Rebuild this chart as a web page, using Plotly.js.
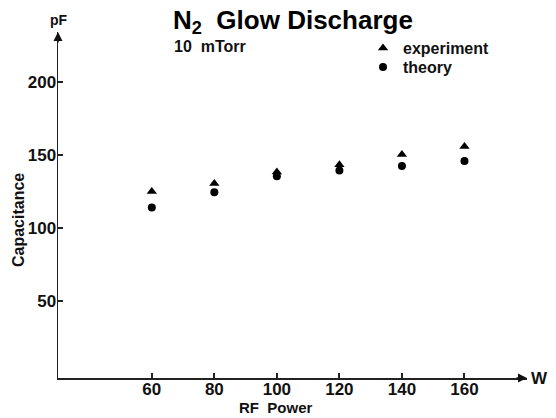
<!DOCTYPE html>
<html>
<head>
<meta charset="utf-8">
<script src="https://cdn.plot.ly/plotly-3.0.1.min.js"></script>
<style>html,body{margin:0;padding:0;background:#fff;}#chart{width:556px;height:418px;}</style>
</head>
<body>
<div id="chart"></div>
<script>
const power = [60, 80, 100, 120, 140, 160];
const experiment = [125, 130.5, 138.5, 143.5, 150.5, 156];
const theory = [114, 124.5, 135.5, 139.5, 142.5, 146];
const xTicks = [60, 80, 100, 120, 140, 160];
const yTicks = [50, 100, 150, 200];

const L = 58, R = 527, T = 32, B = 378;
const px = v => (v - L) / (R - L);
const py = v => (B - v) / (B - T);
const font = 'Liberation Sans, Arial, Helvetica, sans-serif';

const traces = [
  {x: power, y: experiment, name: 'experiment', mode: 'markers', type: 'scatter', legend: 'legend',
   marker: {symbol: 'triangle-up', size: 9, color: '#000'}, cliponaxis: false},
  {x: power, y: theory, name: 'theory', mode: 'markers', type: 'scatter', legend: 'legend2',
   marker: {symbol: 'circle', size: 8, color: '#000'}, cliponaxis: false}
];

const legendStyle = (top) => ({
  x: px(363), y: py(top), xanchor: 'left', yanchor: 'top',
  bgcolor: 'rgba(0,0,0,0)', borderwidth: 0,
  font: {size: 16, family: font, color: '#111', weight: 'bold'},
  itemwidth: 30
});

const layout = {
  width: 556, height: 418,
  margin: {l: L, r: 556 - R, t: T, b: 418 - B, pad: 0},
  paper_bgcolor: '#fff', plot_bgcolor: '#fff',
  font: {family: font, color: '#111', size: 15},
  showlegend: true,
  legend: legendStyle(31),
  legend2: legendStyle(50),
  xaxis: {range: [30, 180], tickvals: xTicks, ticktext: xTicks.map(String),
          showgrid: false, zeroline: false, showline: true, linecolor: '#222', linewidth: 1.5,
          ticks: 'inside', ticklen: 5, tickwidth: 2, tickcolor: '#222', ticklabelstandoff: -5,
          tickfont: {size: 17, family: font, color: '#111', weight: 'bold'}, fixedrange: true},
  yaxis: {range: [-3, 234.6], tickvals: yTicks, ticktext: yTicks.map(String),
          showgrid: false, zeroline: false, showline: true, linecolor: '#222', linewidth: 1.5,
          ticks: 'inside', ticklen: 5, tickwidth: 2, tickcolor: '#222', ticklabelstandoff: -3,
          tickfont: {size: 17, family: font, color: '#111', weight: 'bold'}, fixedrange: true},
  annotations: [
    {xref: 'paper', yref: 'paper', x: px(293), y: py(21), xanchor: 'center', yanchor: 'middle',
     text: '<b>N<sub>2</sub>\u00a0 Glow Discharge</b>', showarrow: false,
     font: {size: 26, family: font, color: '#000'}},
    {xref: 'paper', yref: 'paper', x: px(172), y: py(47), xanchor: 'left', yanchor: 'middle',
     text: '<b>10\u00a0 mTorr</b>', showarrow: false, font: {size: 16, family: font, color: '#111'}},
    {xref: 'paper', yref: 'paper', x: px(59), y: py(20), xanchor: 'center', yanchor: 'middle',
     text: '<b>pF</b>', showarrow: false, font: {size: 14, family: font, color: '#111'}},
    {xref: 'paper', yref: 'paper', x: px(539), y: py(379), xanchor: 'center', yanchor: 'middle',
     text: '<b>W</b>', showarrow: false, font: {size: 17, family: font, color: '#111'}},
    {xref: 'paper', yref: 'paper', x: px(276), y: py(408), xanchor: 'center', yanchor: 'middle',
     text: '<b>RF\u00a0 Power</b>', showarrow: false, font: {size: 15, family: font, color: '#111'}},
    {xref: 'paper', yref: 'paper', x: px(18), y: py(220), xanchor: 'center', yanchor: 'middle',
     text: '<b>Capacitance</b>', textangle: -90, showarrow: false, font: {size: 16, family: font, color: '#111'}},
    {xref: 'paper', yref: 'paper', x: 1, y: 0, ax: -12, ay: 0, axref: 'pixel', ayref: 'pixel',
     text: '', showarrow: true, arrowhead: 2, arrowsize: 1.2, arrowwidth: 1.5, arrowcolor: '#111'},
    {xref: 'paper', yref: 'paper', x: 0, y: 1, ax: 0, ay: 12, axref: 'pixel', ayref: 'pixel',
     text: '', showarrow: true, arrowhead: 2, arrowsize: 1.2, arrowwidth: 1.5, arrowcolor: '#111'}
  ]
};

Plotly.newPlot('chart', traces, layout, {staticPlot: true, displayModeBar: false});
</script>
</body>
</html>
